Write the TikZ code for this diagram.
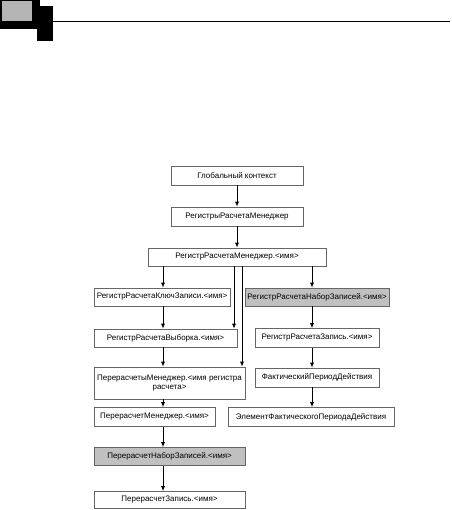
\documentclass[tikz,border=0pt]{standalone}
\usepackage{fontspec}
\setmainfont{Liberation Sans}
\usetikzlibrary{arrows.meta,calc}
\definecolor{boxgray}{RGB}{192,192,192}
\definecolor{hdrgray}{RGB}{180,180,180}
\tikzset{
  box/.style={draw=black!60, line width=0.6pt, fill=white, inner sep=0pt, align=center,
    font=\fontsize{8}{9.6}\selectfont, minimum height=19pt},
  shaded/.style={box, fill=boxgray},
  arr/.style={-{Latex[length=5pt,width=4pt]}, line width=0.8pt, black},
}
\begin{document}
\begin{tikzpicture}[x=1pt,y=-1pt]
\useasboundingbox (0,0) rectangle (451,510);
% header
\fill[black] (0,0) rectangle (40,29);
\fill[hdrgray] (1.5,1) rectangle (32,21);
\fill[black] (37,6) rectangle (53,41);
\draw[line width=0.8pt] (53,21.3) -- (450,21.3);
% columns
\coordinate (lc) at (163,0);
\coordinate (rc) at (312,0);
\coordinate (l1) at (234,0);
\coordinate (l2) at (242,0);
% nodes
\node[box, minimum width=132pt] (glob) at (237,175.5) {Глобальный контекст};
\node[box, minimum width=132pt] (regs) at (237,216.5) {РегистрыРасчетаМенеджер};
\node[box, minimum width=178pt, minimum height=18pt] (rrm) at (237,257) {РегистрРасчетаМенеджер.<имя>};
\node[box, minimum width=136pt, minimum height=18pt] (key) at (162,297) {РегистрРасчетаКлючЗаписи.<имя>};
\node[shaded, minimum width=144pt, minimum height=18pt] (nabor) at (317,297) {РегистрРасчетаНаборЗаписей.<имя>};
\node[box, minimum width=143pt, minimum height=18pt] (vyb) at (165.5,338) {РегистрРасчетаВыборка.<имя>};
\node[box, minimum width=124pt] (zap) at (317,338) {РегистрРасчетаЗапись.<имя>};
\node[box, minimum width=151pt, minimum height=32pt] (perman) at (169.5,383) {ПерерасчетыМенеджер.<имя регистра\\расчета>};
\node[box, minimum width=124pt] (fact) at (317,377.5) {ФактическийПериодДействия};
\node[box, minimum width=121pt] (perm) at (154.5,417) {ПерерасчетМенеджер.<имя>};
\node[box, minimum width=166pt] (elem) at (311,417) {ЭлементФактическогоПериодаДействия};
\node[shaded, minimum width=151pt, minimum height=18pt] (pnabor) at (169.5,456.5) {ПерерасчетНаборЗаписей.<имя>};
\node[box, minimum width=151pt, minimum height=17pt] (pzap) at (169.5,500) {ПерерасчетЗапись.<имя>};
% connectors
\draw[arr] (glob) -- (regs);
\draw[arr] (regs) -- (regs |- rrm.north);
\draw[arr] (rrm.south -| lc) -- (key.north -| lc);
\draw[arr] (rrm.south -| rc) -- (nabor.north -| rc);
\draw[arr] (rrm.south -| l1) -- (vyb.north -| l1);
\draw[arr] (rrm.south -| l2) -- (perman.north -| l2);
\draw[arr] (key.south -| lc) -- (vyb.north -| lc);
\draw[arr] (vyb.south -| lc) -- (perman.north -| lc);
\draw[arr] (perman.south -| lc) -- (perm.north -| lc);
\draw[arr] (perm.south -| lc) -- (pnabor.north -| lc);
\draw[arr] (pnabor.south -| lc) -- (pzap.north -| lc);
\draw[arr] (nabor.south -| rc) -- (zap.north -| rc);
\draw[arr] (zap.south -| rc) -- (fact.north -| rc);
\draw[arr] (fact.south -| rc) -- (elem.north -| rc);
\end{tikzpicture}
\end{document}
